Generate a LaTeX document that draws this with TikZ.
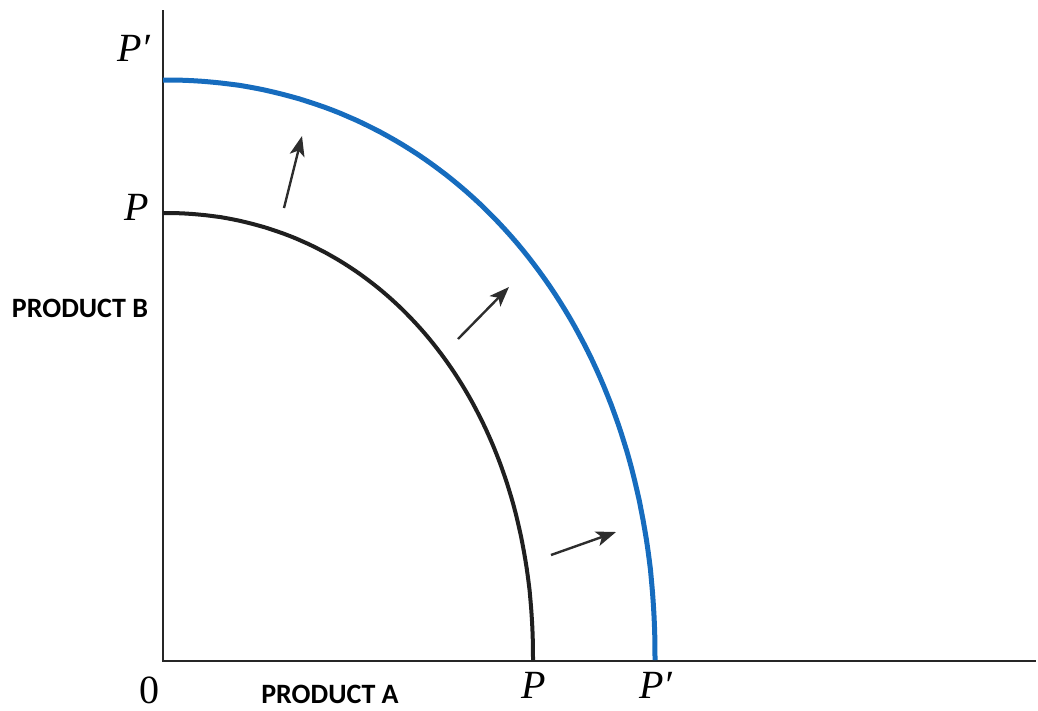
\documentclass[tikz,border=0pt]{standalone}
\usepackage{fontspec}
\newfontfamily\labfont{Liberation Serif}
\newfontfamily\axfont{Carlito}
\usetikzlibrary{arrows.meta}
\definecolor{ppfblue}{RGB}{22,108,190}
\definecolor{arrgray}{RGB}{45,45,45}
\tikzset{
  axisline/.style={line width=2.2pt, black!85},
  oldppf/.style={line width=4pt, black!88},
  newppf/.style={line width=5pt, ppfblue},
  shiftarrow/.style={line width=2.4pt, arrgray, -{Stealth[length=20pt,width=15pt,inset=5pt]}},
  lab/.style={font=\labfont\itshape\fontsize{40}{44}\selectfont, inner sep=0pt},
  zerolab/.style={font=\labfont\fontsize{40}{44}\selectfont, inner sep=0pt},
  axlab/.style={font=\axfont\bfseries\fontsize{28}{30}\selectfont, inner sep=0pt}
}
\begin{document}
\begin{tikzpicture}[x=1pt,y=-1pt]
\useasboundingbox (0,0) rectangle (1038,710);
\coordinate (ytop) at (163,10);
\coordinate (O) at (163,661);
\coordinate (xend) at (1036,661);
\draw[axisline] (ytop) -- (O) -- (xend);
% old PPF
\draw[oldppf] plot[domain=0:90, samples=91, variable=\t]
  ({163+370*pow(abs(cos(\t))+0.00001,0.952)}, {660-447*pow(abs(sin(\t))+0.00001,0.952)});
% new PPF
\draw[newppf] plot[domain=0:90, samples=91, variable=\t]
  ({163+492*pow(abs(cos(\t))+0.00001,0.952)}, {660-580*pow(abs(sin(\t))+0.00001,0.952)});
% shift arrows
\coordinate (a1s) at (284,208); \coordinate (a1e) at (302,136);
\coordinate (a2s) at (458,339); \coordinate (a2e) at (509,287);
\coordinate (a3s) at (551,555); \coordinate (a3e) at (616,532);
\draw[shiftarrow] (a1s) -- (a1e);
\draw[shiftarrow] (a2s) -- (a2e);
\draw[shiftarrow] (a3s) -- (a3e);
% labels
\node[lab] (Pp1) at (134,48) {P′};
\node[lab] (P1) at (137,207) {P};
\node[axlab] (PB) at (80,308) {PRODUCT B};
\node[zerolab] (zero) at (149,690) {0};
\node[axlab] (PA) at (330,694) {PRODUCT A};
\node[lab] (P2) at (534,685) {P};
\node[lab] (Pp2) at (656,685) {P′};
\end{tikzpicture}
\end{document}
